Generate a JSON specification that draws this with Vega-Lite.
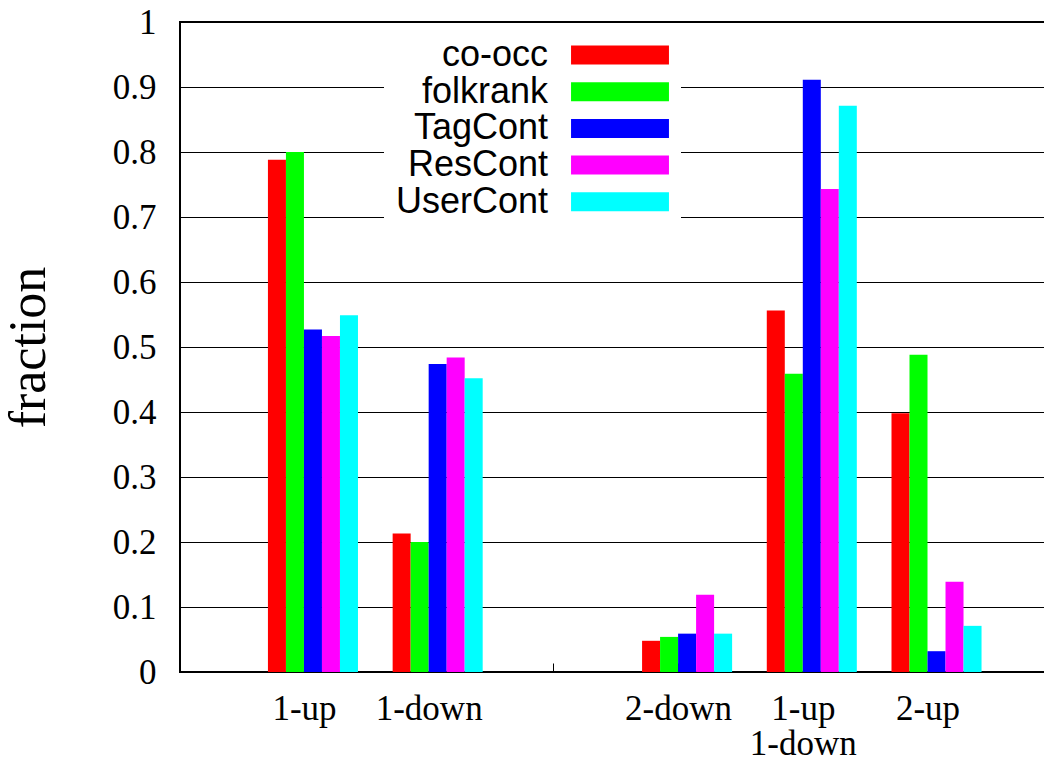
{
  "$schema": "https://vega.github.io/schema/vega-lite/v6.json",
  "width": 866,
  "height": 650,
  "autosize": {"type": "none"},
  "padding": {"left": 180, "top": 22, "right": 0, "bottom": 93},
  "background": "white",
  "config": {"view": {"stroke": "black", "strokeWidth": 2}, "font": "Liberation Serif"},
  "data": {"values": [
    {"pattern": "1-up", "method": "co-occ", "fraction": 0.788},
    {"pattern": "1-up", "method": "folkrank", "fraction": 0.800},
    {"pattern": "1-up", "method": "TagCont", "fraction": 0.527},
    {"pattern": "1-up", "method": "ResCont", "fraction": 0.517},
    {"pattern": "1-up", "method": "UserCont", "fraction": 0.549},
    {"pattern": "1-down", "method": "co-occ", "fraction": 0.213},
    {"pattern": "1-down", "method": "folkrank", "fraction": 0.200},
    {"pattern": "1-down", "method": "TagCont", "fraction": 0.474},
    {"pattern": "1-down", "method": "ResCont", "fraction": 0.484},
    {"pattern": "1-down", "method": "UserCont", "fraction": 0.452},
    {"pattern": "2-down", "method": "co-occ", "fraction": 0.048},
    {"pattern": "2-down", "method": "folkrank", "fraction": 0.054},
    {"pattern": "2-down", "method": "TagCont", "fraction": 0.059},
    {"pattern": "2-down", "method": "ResCont", "fraction": 0.119},
    {"pattern": "2-down", "method": "UserCont", "fraction": 0.059},
    {"pattern": "1-up 1-down", "method": "co-occ", "fraction": 0.556},
    {"pattern": "1-up 1-down", "method": "folkrank", "fraction": 0.459},
    {"pattern": "1-up 1-down", "method": "TagCont", "fraction": 0.911},
    {"pattern": "1-up 1-down", "method": "ResCont", "fraction": 0.743},
    {"pattern": "1-up 1-down", "method": "UserCont", "fraction": 0.871},
    {"pattern": "2-up", "method": "co-occ", "fraction": 0.398},
    {"pattern": "2-up", "method": "folkrank", "fraction": 0.488},
    {"pattern": "2-up", "method": "TagCont", "fraction": 0.032},
    {"pattern": "2-up", "method": "ResCont", "fraction": 0.139},
    {"pattern": "2-up", "method": "UserCont", "fraction": 0.071}
  ]},
  "mark": {"type": "bar"},
  "encoding": {
    "x": {
      "field": "pattern", "type": "nominal", "sort": null,
      "scale": {"domain": ["1-up", "1-down", " ", "2-down", "1-up 1-down", "2-up"], "paddingInner": 0.278, "paddingOuter": 0.611, "align": 0.577, "round": false},
      "axis": {"title": null, "labelAngle": 0, "labelExpr": "split(datum.value, ' ')", "labelFont": "Liberation Serif", "labelFontSize": 35, "labelColor": "black", "labelOffset": 0, "labelPadding": 28, "labelLineHeight": 35, "labelBaseline": "top", "ticks": true, "tickSize": -9, "tickOffset": -9, "tickColor": "black", "tickWidth": 1, "domain": false, "grid": false}
    },
    "xOffset": {
      "field": "method", "type": "nominal",
      "sort": ["co-occ", "folkrank", "TagCont", "ResCont", "UserCont"],
      "scale": {"paddingInner": 0, "paddingOuter": 0}
    },
    "y": {
      "field": "fraction", "type": "quantitative",
      "scale": {"domain": [0, 1], "nice": false},
      "axis": {"title": "fraction", "values": [0, 0.1, 0.2, 0.3, 0.4, 0.5, 0.6, 0.7, 0.8, 0.9, 1], "format": ".1~f", "grid": true, "gridColor": "black", "gridWidth": 1, "gridOpacity": 1, "domain": false, "ticks": false, "labelPadding": 24, "labelFontSize": 35, "labelFont": "Liberation Serif", "labelColor": "black", "titleFont": "Liberation Serif", "titleFontSize": 52, "titleFontWeight": "normal", "titleColor": "black", "titlePadding": 57}
    },
    "color": {
      "field": "method", "type": "nominal",
      "sort": ["co-occ", "folkrank", "TagCont", "ResCont", "UserCont"],
      "scale": {"domain": ["co-occ", "folkrank", "TagCont", "ResCont", "UserCont"], "range": ["#ff0000", "#00ff00", "#0000ff", "#ff00ff", "#00ffff"]},
      "legend": {"orient": "none", "legendX": 204, "legendY": 3, "title": null, "direction": "vertical", "symbolType": "M-2.72,-0.528H2.72V0.528H-2.72Z", "symbolSize": 1296, "symbolStrokeWidth": 0, "labelFont": "Liberation Sans", "labelFontSize": 36, "labelColor": "black", "labelAlign": "right", "labelOffset": -90, "symbolOffset": 206, "labelLimit": 400, "rowPadding": 0.7, "padding": 12, "fillColor": "white", "strokeColor": null}
    }
  }
}
